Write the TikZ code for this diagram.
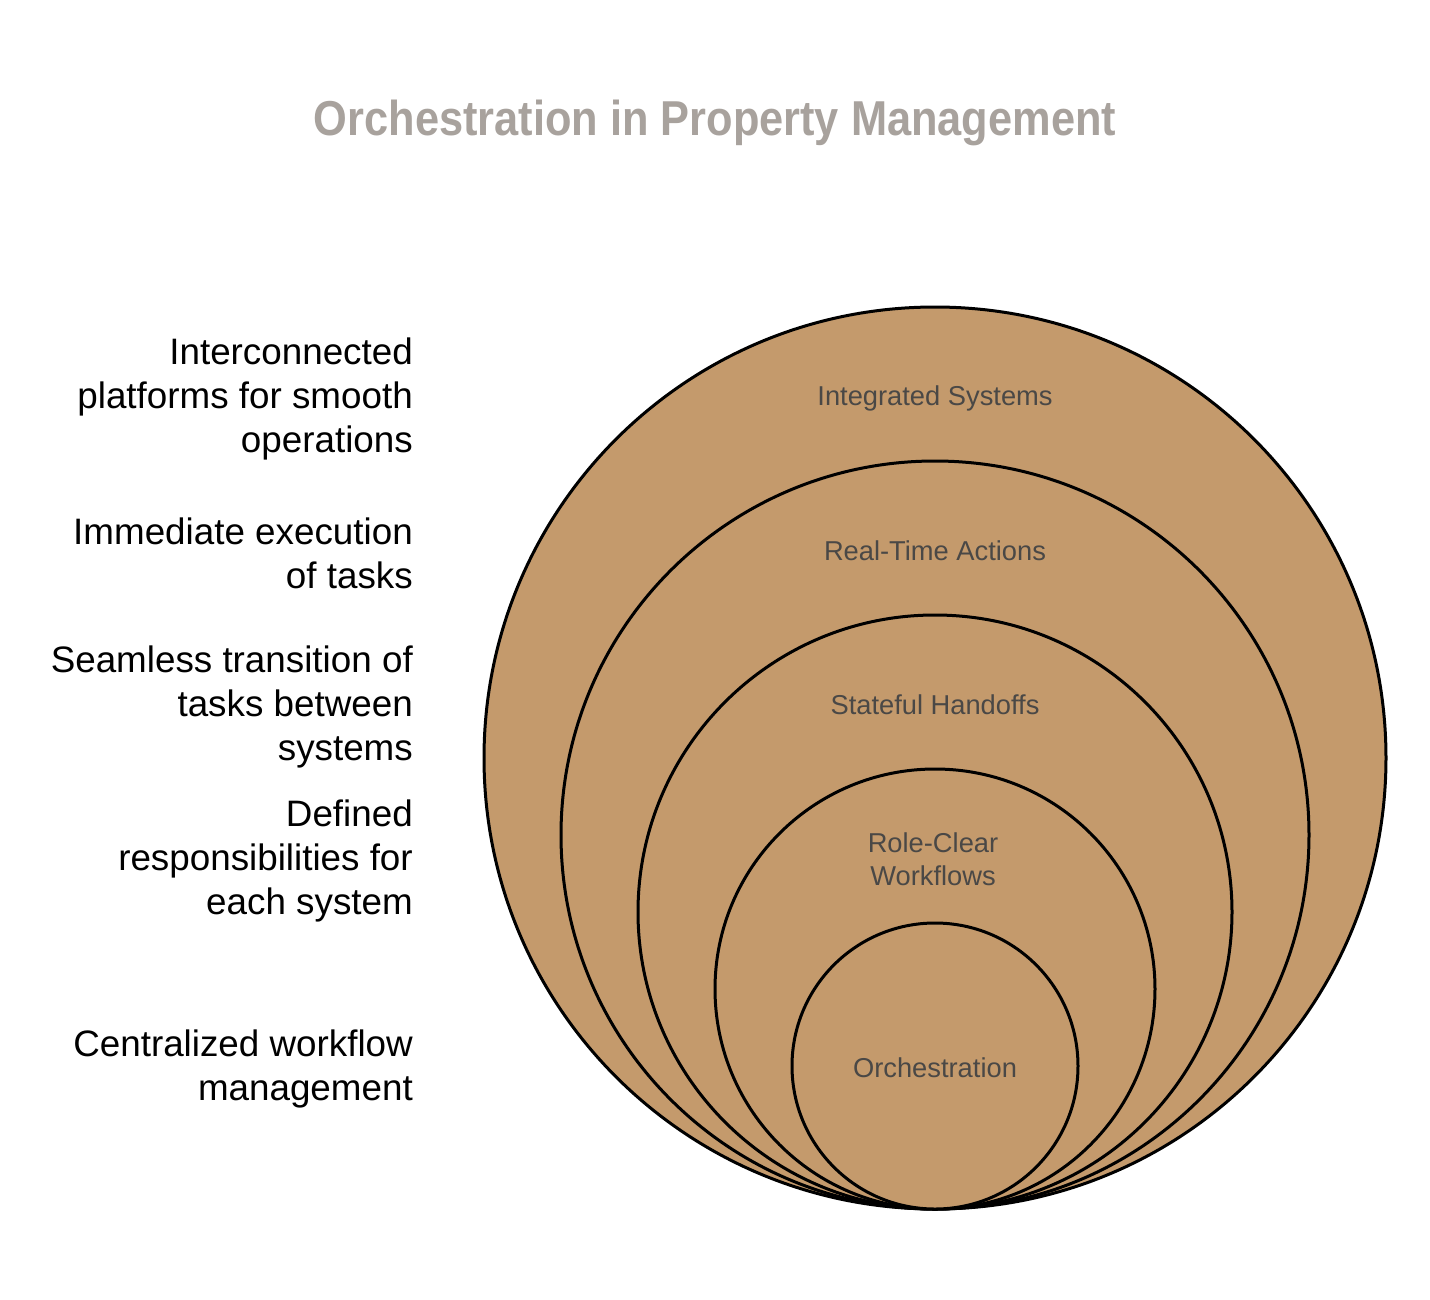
\documentclass[tikz,border=0pt]{standalone}
\usepackage{fontspec}
\setmainfont{Liberation Sans}
\definecolor{ringfill}{RGB}{196,154,108}
\definecolor{titlegray}{RGB}{168,162,157}
\definecolor{labelgray}{RGB}{74,72,70}
\begin{document}
\begin{tikzpicture}[x=1pt,y=-1pt,
  ring/.style={draw=black,line width=3pt,fill=ringfill},
  ringlabel/.style={inner sep=0pt,text=labelgray,align=center,font=\fontsize{27.3}{33}\selectfont},
  sidetext/.style={inner sep=0pt,anchor=east,align=right,text=black,font=\fontsize{36.8}{44}\selectfont},
  titletext/.style={inner sep=0pt,text=titlegray,font=\fontsize{49}{56}\selectfont\bfseries}]
\useasboundingbox (0,0) rectangle (1430,1299);
\fill[white] (0,0) rectangle (1430,1299);
% title
\node[titletext] (title) at (715,123) {\scalebox{0.885}[1]{Orchestration in Property Management}};
% circles (all tangent at bottom y=1209)
\node[ring,circle,minimum size=902pt,inner sep=0pt] (c1) at (935,758) {};
\node[ring,circle,minimum size=748pt,inner sep=0pt] (c2) at (935,835) {};
\node[ring,circle,minimum size=594pt,inner sep=0pt] (c3) at (935,912) {};
\node[ring,circle,minimum size=440pt,inner sep=0pt] (c4) at (935,989) {};
\node[ring,circle,minimum size=286pt,inner sep=0pt] (c5) at (935,1066) {};
% circle labels
\node[ringlabel] (l1) at (935,398) {Integrated Systems};
\node[ringlabel] (l2) at (935,551) {Real-Time Actions};
\node[ringlabel] (l3) at (935,705) {Stateful Handoffs};
\node[ringlabel] (l4) at (933,859) {Role-Clear\\Workflows};
\node[ringlabel] (l5) at (935,1068) {Orchestration};
% side texts
\node[sidetext] (s1) at (413,399) {Interconnected\\platforms for smooth\\operations};
\node[sidetext] (s2) at (413,553) {Immediate execution\\of tasks};
\node[sidetext] (s3) at (413,707) {Seamless transition of\\tasks between\\systems};
\node[sidetext] (s4) at (413,861) {Defined\\responsibilities for\\each system};
\node[sidetext] (s5) at (413,1069) {Centralized workflow\\management};
\end{tikzpicture}
\end{document}
